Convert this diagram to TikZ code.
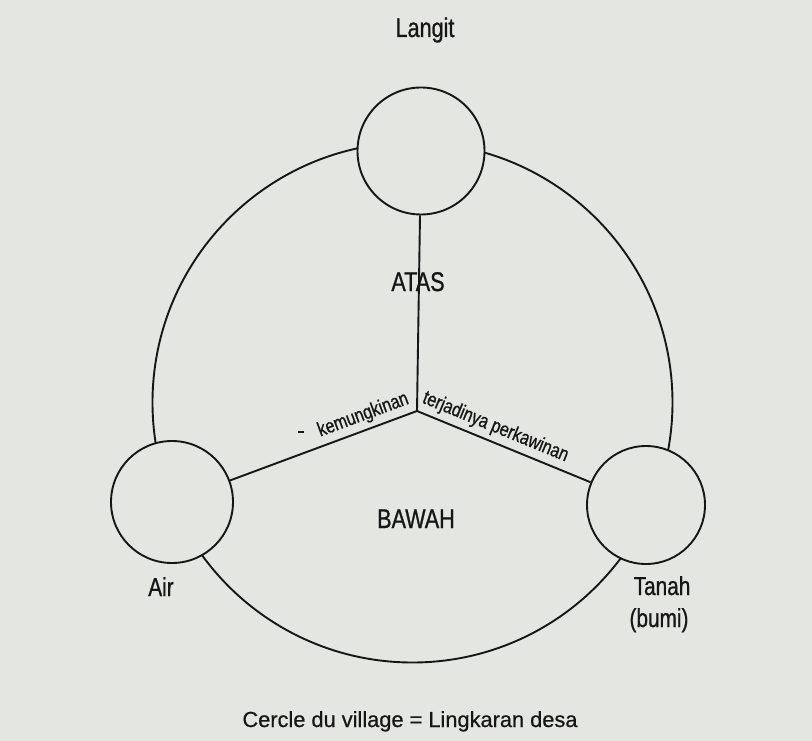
\documentclass[tikz,border=0pt]{standalone}
\usepackage{fontspec}
\setmainfont{Liberation Sans}[FakeBold=0.6]
\newfontfamily\labfont{Liberation Sans}[FakeStretch=0.8, FakeBold=0.8]
\definecolor{paper}{RGB}{228,230,226}
\definecolor{ink}{RGB}{22,22,22}
\begin{document}
\begin{tikzpicture}[x=1pt,y=1pt,
  ring/.style={circle, draw=ink, line width=1.9pt, fill=paper, inner sep=0pt},
  conn/.style={draw=ink, line width=1.9pt},
  lab/.style={text=ink, font=\labfont\fontsize{27}{30}\selectfont, inner sep=0pt, anchor=base},
  sublab/.style={text=ink, font=\labfont\fontsize{26}{30}\selectfont, inner sep=0pt, anchor=base},
  edgelab/.style={text=ink, font=\labfont\fontsize{20}{22}\selectfont, sloped, above, inner sep=4.5pt},
  caption/.style={text=ink, font=\fontsize{21.8}{24}\selectfont, inner sep=0pt, anchor=base}]
\fill[paper] (0,0) rectangle (812,-741);
\useasboundingbox (0,0) rectangle (812,-741);
% outer village circle
\draw[conn] (412.5,-402.5) circle[radius=260];
% small circles
\node[ring, minimum size=127pt] (cTop) at (421,-151) {};
\node[ring, minimum size=122pt] (cAir) at (172,-502) {};
\node[ring, minimum size=118pt] (cTanah) at (646,-505) {};
% junction and spokes
\coordinate (j) at (417,-411);
\draw[conn] (j) -- (cTop);
\draw[conn] (j) -- node[edgelab, pos=0.26] {kemungkinan} (cAir);
\draw[conn] (j) -- node[edgelab, pos=0.42] {terjadinya perkawinan} (cTanah);
\draw[ink, line width=1.4pt] (298,-432) -- (304,-432);
% labels
\node[lab] (langit) at (425,-37) {Langit};
\node[lab] (atas) at (418,-291) {ATAS};
\node[lab] (bawah) at (416,-528) {BAWAH};
\node[sublab] (air) at (161,-596) {Air};
\node[sublab] (tanah) at (662,-595) {Tanah};
\node[sublab] (bumi) at (659,-627) {(bumi)};
\node[caption] (cap) at (410,-727) {Cercle du village = Lingkaran desa};
\end{tikzpicture}
\end{document}
